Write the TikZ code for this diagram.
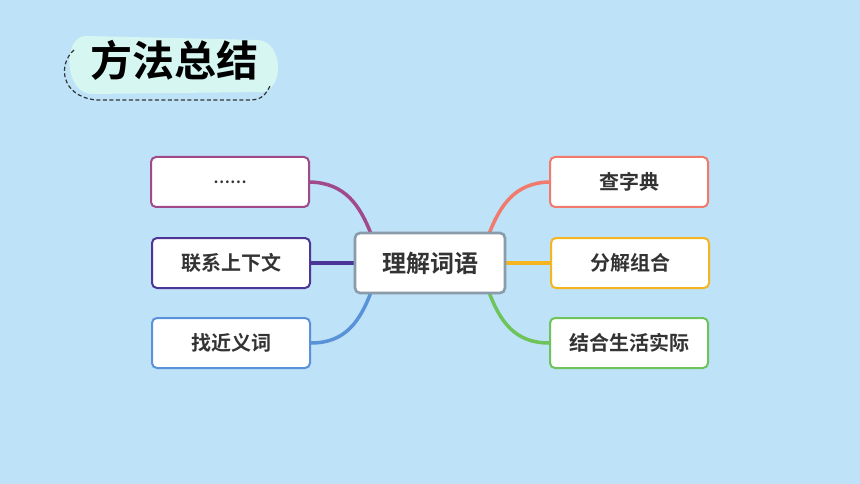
\documentclass[tikz,border=0pt]{standalone}
\usepackage{fontspec}
\setmainfont{Noto Sans CJK SC}
\newfontfamily\cjkbold{Noto Sans CJK SC Bold}
\usetikzlibrary{positioning,calc}
\pgfdeclarelayer{bg}
\pgfdeclarelayer{links}
\pgfsetlayers{bg,links,main}
\definecolor{bgblue}{RGB}{190,226,247}
\definecolor{blob}{RGB}{214,246,242}
\definecolor{ink}{RGB}{51,51,51}
\definecolor{cpurple}{RGB}{160,74,140}
\definecolor{cindigo}{RGB}{76,54,150}
\definecolor{cblue}{RGB}{90,146,218}
\definecolor{cgray}{RGB}{138,155,170}
\definecolor{csalmon}{RGB}{240,122,108}
\definecolor{camber}{RGB}{245,181,32}
\definecolor{cgreen}{RGB}{110,196,90}
\tikzset{
  leaf/.style={draw=#1, line width=2pt, rounded corners=5pt, fill=white, align=center,
              minimum width=158pt, minimum height=50pt, inner sep=4pt, text=ink,
              font=\cjkbold\fontsize{20}{24}\selectfont},
  hub/.style={draw=cgray, line width=2.6pt, rounded corners=5pt, fill=white, align=center,
              minimum width=150pt, minimum height=60pt, inner sep=4pt, text=ink,
              font=\cjkbold\fontsize{24}{28}\selectfont},
  branch/.style={draw=#1, line width=3.5pt, line cap=round},
}

\begin{document}
\begin{tikzpicture}[x=1pt, y=-1pt]
  \begin{pgfonlayer}{bg}
    \fill[bgblue] (0,0) rectangle (860,484);
  \end{pgfonlayer}
  \useasboundingbox (0,0) rectangle (860,484);

  % title
  \fill[blob] (86,36) -- (258,40) .. controls (284,42) and (284,90) .. (262,92)
    -- (92,94) .. controls (64,94) and (62,36) .. (86,36) -- cycle;
  \draw[ink, dash pattern=on 4pt off 2.5pt, line width=1.2pt] (74,50) .. controls (58,64) and (60,96) .. (96,100)
    -- (250,100) .. controls (262,100) and (266,94) .. (270,86);
  \node[text=black, font=\cjkbold\fontsize{42}{44}\selectfont] (title) at (174,60) {方法总结};

  % nodes
  \node[hub] (hub) at (430,263) {理解词语};
  \node[leaf=cpurple, font=\cjkbold\fontsize{15}{18}\selectfont] (dots) at (230,182) {……};
  \node[leaf=cindigo] (ctx) at (231,263) {联系上下文};
  \node[leaf=cblue] (syn) at (231,343) {找近义词};
  \node[leaf=csalmon] (dict) at (629,182) {查字典};
  \node[leaf=camber] (split) at (630,263) {分解组合};
  \node[leaf=cgreen] (life) at (629,343) {结合生活实际};

  % branches
  \begin{pgfonlayer}{links}
  \draw[branch=cpurple] ($(hub.north west)+(18,4)$) .. controls (360,205) and (345,183) .. (dots.east);
  \draw[branch=cindigo] (hub.west) -- (ctx.east);
  \draw[branch=cblue] ($(hub.south west)+(18,-4)$) .. controls (360,322) and (345,343) .. (syn.east);
  \draw[branch=csalmon] ($(hub.north east)+(-18,4)$) .. controls (500,205) and (515,183) .. (dict.west);
  \draw[branch=camber] (hub.east) -- (split.west);
  \draw[branch=cgreen] ($(hub.south east)+(-18,-4)$) .. controls (500,322) and (515,343) .. (life.west);
  \end{pgfonlayer}
\end{tikzpicture}
\end{document}
